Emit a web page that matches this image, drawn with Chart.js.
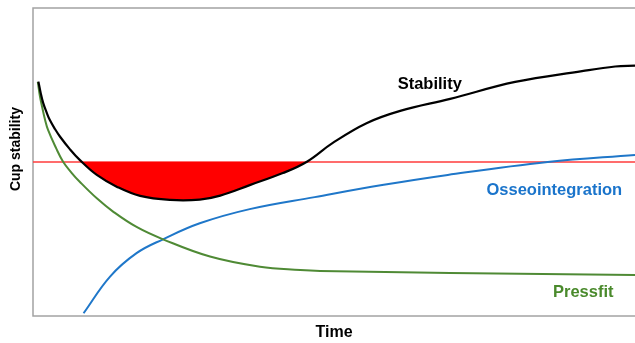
<!DOCTYPE html>
<html>
<head>
<meta charset="utf-8">
<script src="https://cdn.jsdelivr.net/npm/chart.js@4"></script>
<style>
    html, body { margin: 0; padding: 0; background: #ffffff; }
    #wrap { width: 635px; height: 343px; }
</style>
</head>
<body>
<div id="wrap"><canvas id="graficoEstabilidade"></canvas></div>
<script>
// --- Data (x = time 0..100, y = stability 0..100) ---
const stabilityX = [0.9, 1.3, 1.7, 2.26, 2.8, 3.65, 4.5, 6.15, 7.8, 10.6, 13.9, 17.8, 22.8, 27.7, 31.1, 36.0, 41.5, 45.5, 49.8, 55.4, 61.0, 69.3, 80.1, 91.2, 96.7, 100];
const stabilityY = [76.1, 72.2, 69.1, 66.1, 63.6, 60.7, 58.2, 54.1, 50.6, 45.8, 42.0, 39.0, 37.7, 37.8, 39.1, 42.5, 46.4, 50.1, 56.2, 62.6, 66.6, 70.5, 76.0, 79.5, 81.0, 81.3];

const pressfitX = [0.8, 1.13, 1.5, 1.99, 2.5, 3.79, 5.0, 6.41, 7.8, 10.6, 13.3, 17.2, 21.6, 29.4, 37.7, 44.4, 47.7, 69.3, 100];
const pressfitY = [76.0, 71.6, 68.0, 63.8, 60.4, 54.7, 50.1, 46.5, 43.5, 38.2, 33.9, 28.9, 24.9, 19.3, 16.0, 14.9, 14.6, 14.0, 13.3];

const osseoX = [8.4, 12.8, 17.2, 21.6, 27.7, 36.0, 46.8, 58.0, 68.9, 85.5, 100];
const osseoY = [0.9, 12.8, 20.4, 24.9, 30.1, 34.7, 38.6, 42.5, 45.8, 50.0, 52.3];

const thresholdX = [0, 100];
const thresholdY = [50, 50];

// text labels placed in data units
const curveLabels = ['Stability', 'Osseointegration', 'Pressfit'];
const curveLabelX = [65.9, 86.6, 91.4];
const curveLabelY = [75.3, 40.9, 7.8];

const axisTitleX = 'Time';
const axisTitleY = 'Cup stability';
const axisTitleYPos = 54.2; // centre of the y title, in data units

// --- Styles ---
const FONTE = '"Liberation Sans", Arial, sans-serif';
const corPreto = '#000000';
const corAzul = '#1f77c9';
const corVerde = '#4f8a35';
const corVermelho = '#ff3b3b';
const corLabels = [corPreto, '#1a74cb', '#4a8a2c'];

function pontos(xs, ys) {
    return xs.map((x, i) => ({ x: x, y: ys[i] }));
}

/**
 * Frame around the plot area, the y title and the curve labels
 */
const pluginMoldura = {
    id: 'moldura',
    beforeDatasetsDraw(chart) {
        const { ctx, chartArea } = chart;
        ctx.save();
        ctx.strokeStyle = '#a3a3a3';
        ctx.lineWidth = 1.5;
        ctx.strokeRect(chartArea.left, chartArea.top, chartArea.right - chartArea.left + 5, chartArea.bottom - chartArea.top);
        ctx.restore();
    },
    afterDraw(chart) {
        const { ctx, chartArea } = chart;
        const x = chart.scales.x;
        const y = chart.scales.y;
        ctx.save();
        ctx.font = 'bold 16.5px ' + FONTE;
        ctx.textAlign = 'center';
        ctx.textBaseline = 'middle';
        curveLabels.forEach((txt, i) => {
            ctx.fillStyle = corLabels[i];
            ctx.fillText(txt, x.getPixelForValue(curveLabelX[i]), y.getPixelForValue(curveLabelY[i]));
        });

        // y title, rotated
        ctx.translate(chartArea.left - 17, y.getPixelForValue(axisTitleYPos));
        ctx.rotate(-Math.PI / 2);
        ctx.fillStyle = corPreto;
        ctx.font = 'bold 14px ' + FONTE;
        ctx.fillText(axisTitleY, 0, 0);
        ctx.restore();
    }
};

const ctx = document.getElementById('graficoEstabilidade').getContext('2d');

new Chart(ctx, {
    type: 'line',
    data: {
        datasets: [
            {
                label: 'Stability',
                data: pontos(stabilityX, stabilityY),
                borderColor: corPreto,
                borderWidth: 2.2,
                fill: { target: { value: 50 }, above: 'rgba(0,0,0,0)', below: '#ff0000' },
                tension: 0.4
            },
            {
                label: 'Pressfit',
                data: pontos(pressfitX, pressfitY),
                borderColor: corVerde,
                borderWidth: 2,
                fill: false,
                tension: 0.4
            },
            {
                label: 'Osseointegration',
                data: pontos(osseoX, osseoY),
                borderColor: corAzul,
                borderWidth: 2,
                fill: false,
                tension: 0.4
            },
            {
                label: 'Threshold',
                data: pontos(thresholdX, thresholdY),
                borderColor: corVermelho,
                borderWidth: 1.5,
                fill: false
            }
        ]
    },
    options: {
        responsive: true,
        maintainAspectRatio: false,
        animation: false,
        layout: { padding: { top: 8, left: 0, right: 0, bottom: 0 } },
        elements: { point: { radius: 0 } },
        plugins: {
            legend: { display: false },
            tooltip: { enabled: false }
        },
        scales: {
            x: {
                type: 'linear',
                min: 0,
                max: 100,
                grid: { display: false },
                border: { display: false },
                ticks: { display: false },
                title: {
                    display: true,
                    text: axisTitleX,
                    color: corPreto,
                    font: { size: 16, weight: 'bold', family: FONTE },
                    padding: { top: 0, bottom: 1 }
                },
                afterFit(scale) { scale.height = 27; }
            },
            y: {
                min: 0,
                max: 100,
                grid: { display: false },
                border: { display: false },
                ticks: { display: false },
                afterFit(scale) { scale.width = 33; }
            }
        }
    },
    plugins: [pluginMoldura]
});
</script>
</body>
</html>
